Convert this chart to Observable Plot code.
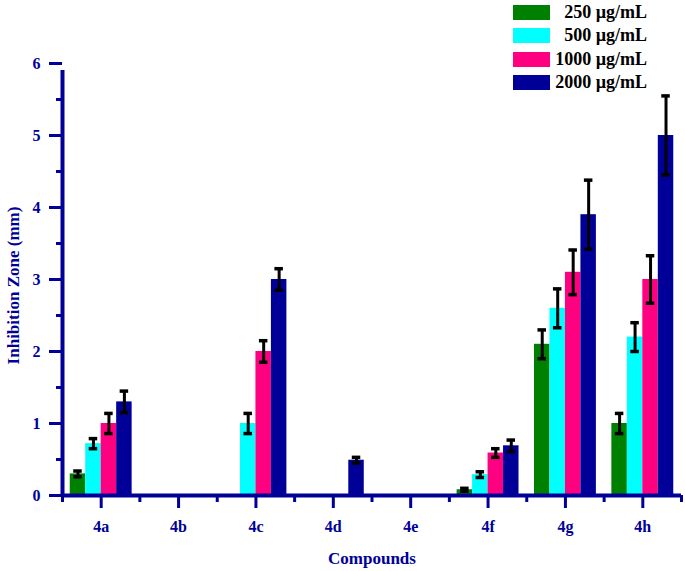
<!DOCTYPE html>
<html>
<head>
<meta charset="utf-8">
<script src="https://cdn.jsdelivr.net/npm/d3@7"></script>
<script src="https://cdn.jsdelivr.net/npm/@observablehq/plot@0.6"></script>
<style>
  html, body { margin: 0; padding: 0; background: #fff; }
  #wrap { position: relative; width: 685px; height: 571px; }
  #legend { position: absolute; left: 513px; top: 5px; font-family: "Liberation Serif", serif; font-weight: bold; font-size: 18px; color: #000; }
  .row { position: absolute; left: 0; height: 15px; width: 134px; }
  .sw { position: absolute; left: 0; top: 0; width: 37px; height: 15px; }
  .lab { position: absolute; right: 0; top: -3px; white-space: nowrap; line-height: 20px; }
</style>
</head>
<body>
<div id="wrap"><div id="chart"></div><div id="legend"></div></div>
<script>
const compounds = ["4a", "4b", "4c", "4d", "4e", "4f", "4g", "4h"];
const series = ["250 µg/mL", "500 µg/mL", "1000 µg/mL", "2000 µg/mL"];
const colors = ["#008000", "#00FFFF", "#FF0080", "#000099"];
const c250  = [0.30, 0, 0,    0,    0, 0.08, 2.10, 1.00];
const c500  = [0.72, 0, 1.00, 0,    0, 0.29, 2.60, 2.20];
const c1000 = [1.00, 0, 2.00, 0,    0, 0.59, 3.10, 3.00];
const c2000 = [1.30, 0, 3.00, 0.49, 0, 0.69, 3.90, 5.00];
const e250  = [0.04, 0, 0,    0,    0, 0.02, 0.20, 0.14];
const e500  = [0.07, 0, 0.14, 0,    0, 0.04, 0.27, 0.20];
const e1000 = [0.14, 0, 0.15, 0,    0, 0.06, 0.31, 0.33];
const e2000 = [0.15, 0, 0.15, 0.04, 0, 0.08, 0.48, 0.55];
const yTicks = [0, 1, 2, 3, 4, 5, 6];

const values = [c250, c500, c1000, c2000];
const errors = [e250, e500, e1000, e2000];
const data = [];
compounds.forEach((c, i) => {
  series.forEach((s, j) => {
    const x1 = i - 0.4 + 0.2 * j;
    data.push({compound: c, series: s, x1, x2: x1 + 0.2, xc: x1 + 0.1, v: values[j][i], e: errors[j][i]});
  });
});
const shown = data.filter(d => d.v > 0);
const withErr = shown.filter(d => d.e > 0);
const navy = "#000099";
const font = "Liberation Serif";

const chart = Plot.plot({
  width: 685,
  height: 571,
  marginLeft: 62,
  marginRight: 4,
  marginTop: 63,
  marginBottom: 76,
  style: {fontFamily: font, fontWeight: "bold", background: "#fff"},
  x: {domain: [-0.5, 7.5], axis: null},
  y: {domain: [0, 6], axis: null},
  color: {domain: series, range: colors},
  marks: [
    Plot.rectY(shown, {x1: "x1", x2: "x2", y1: 0, y2: "v", fill: "series"}),
    Plot.ruleX(withErr, {x: "xc", y1: d => d.v - d.e, y2: d => d.v + d.e, stroke: "#000", strokeWidth: 3}),
    Plot.ruleY(withErr, {y: d => d.v + d.e, x1: d => d.xc - 0.055, x2: d => d.xc + 0.055, stroke: "#000", strokeWidth: 3.5}),
    Plot.ruleY(withErr, {y: d => d.v - d.e, x1: d => d.xc - 0.055, x2: d => d.xc + 0.055, stroke: "#000", strokeWidth: 3.5}),
    // axes
    Plot.axisY({ticks: yTicks, tickSize: 13, tickPadding: 9, tickFormat: d => String(d), color: navy, strokeWidth: 3, fontSize: 16, label: null}),
    Plot.axisY({ticks: yTicks.slice(0, -1).map(t => t + 0.5), tickSize: 6, tickFormat: () => "", color: navy, strokeWidth: 3, label: null}),
    Plot.axisX({ticks: d3.range(compounds.length), tickFormat: i => compounds[i], tickSize: 13, tickPadding: 12, color: navy, strokeWidth: 3, fontSize: 16, label: null}),
    Plot.axisX({ticks: d3.range(compounds.length + 1).map(i => i - 0.5), tickSize: 7, tickFormat: () => "", color: navy, strokeWidth: 3, label: null}),
    Plot.ruleX([-0.5], {y1: 0, y2: 6, stroke: navy, strokeWidth: 4, insetBottom: -7}),
    Plot.ruleY([0], {x1: -0.5, x2: 7.5, stroke: navy, strokeWidth: 4}),
    Plot.text(["Inhibition Zone (mm)"], {frameAnchor: "left", textAnchor: "middle", rotate: -90, dx: -49, dy: 6, fill: navy, fontSize: 17, fontWeight: "bold"}),
    Plot.text(["Compounds"], {frameAnchor: "bottom", dy: 63, fill: navy, fontSize: 17, fontWeight: "bold", lineAnchor: "middle", style: "letter-spacing: 0.6px"})
  ]
});
document.getElementById("chart").appendChild(chart);

const legend = document.getElementById("legend");
series.forEach((s, j) => {
  const row = document.createElement("div");
  row.className = "row";
  row.style.top = (j * 23.3) + "px";
  const sw = document.createElement("div");
  sw.className = "sw";
  sw.style.background = colors[j];
  const lab = document.createElement("div");
  lab.className = "lab";
  lab.textContent = s;
  row.appendChild(sw);
  row.appendChild(lab);
  legend.appendChild(row);
});
</script>
</body>
</html>
